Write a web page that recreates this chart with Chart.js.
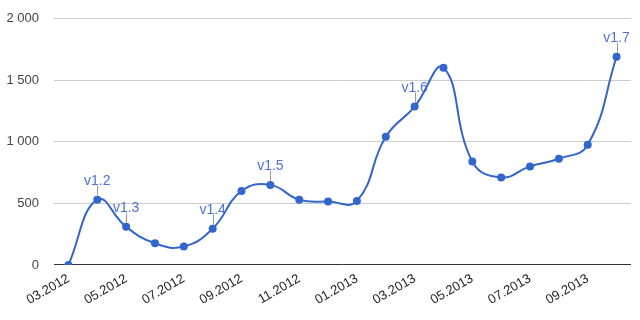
<!DOCTYPE html>
<html>
<head>
<meta charset="utf-8">
<script src="https://cdn.jsdelivr.net/npm/chart.js@4"></script>
<style>
  html, body { margin: 0; padding: 0; background: #fff; }
  #wrap { width: 640px; height: 320px; }
</style>
</head>
<body>
<div id="wrap"><canvas id="chart" width="640" height="320"></canvas></div>
<script>
const months = ['03.2012', '04.2012', '05.2012', '06.2012', '07.2012', '08.2012', '09.2012', '10.2012',
  '11.2012', '12.2012', '01.2013', '02.2013', '03.2013', '04.2013', '05.2013', '06.2013',
  '07.2013', '08.2013', '09.2013', '10.2013'];
const downloads = [0, 530, 310, 176, 150, 295, 600, 650, 530, 515, 520, 1040, 1285, 1600, 840, 710, 800, 862, 976, 1690];
const releases = ['', 'v1.2', 'v1.3', '', '', 'v1.4', '', 'v1.5', '', '', '', '', 'v1.6', '', '', '', '', '', '', 'v1.7'];

const lineColor = '#3366cc';

function fmt(v) {
  return String(v).replace(/\B(?=(\d{3})+(?!\d))/g, ' ');
}

// small stems + version text above points
const releaseLabels = {
  id: 'releaseLabels',
  afterDatasetsDraw(chart) {
    const ctx = chart.ctx;
    const meta = chart.getDatasetMeta(0);
    ctx.save();
    ctx.font = '14px "Liberation Sans", Arial, sans-serif';
    ctx.textAlign = 'center';
    ctx.textBaseline = 'alphabetic';
    releases.forEach((r, i) => {
      if (!r) return;
      const p = meta.data[i];
      ctx.strokeStyle = '#999';
      ctx.lineWidth = 1;
      ctx.beginPath();
      ctx.moveTo(Math.round(p.x) + 0.5, p.y - 4);
      ctx.lineTo(Math.round(p.x) + 0.5, p.y - 14);
      ctx.stroke();
      ctx.fillStyle = '#4a72d6';
      ctx.fillText(r, p.x, p.y - 15);
    });
    ctx.restore();
  }
};

new Chart(document.getElementById('chart').getContext('2d'), {
  type: 'line',
  data: {
    labels: months,
    datasets: [{
      data: downloads,
      borderColor: lineColor,
      backgroundColor: lineColor,
      borderWidth: 2,
      pointRadius: 4,
      pointBorderWidth: 0,
      tension: 0.45,
      fill: false
    }]
  },
  options: {
    responsive: false,
    animation: false,
    layout: { padding: { top: 0, right: 9, left: 0, bottom: 6 } },
    plugins: { legend: { display: false }, tooltip: { enabled: false } },
    scales: {
      x: {
        offset: true,
        grid: { display: false, drawTicks: false },
        border: { display: false },
        ticks: {
          autoSkip: false,
          maxRotation: 30,
          minRotation: 30,
          color: '#222',
          padding: 6,
          font: { family: '"Liberation Sans", Arial, sans-serif', size: 13 },
          callback: (v, i) => (i % 2 === 0 ? months[i] : '')
        }
      },
      y: {
        min: 0,
        max: 2000,
        border: { display: false },
        afterFit: s => { s.width = 54; s.paddingTop = 18.5; },
        grid: {
          drawTicks: false,
          color: ctx => (ctx.tick && ctx.tick.value === 0 ? '#333' : '#ccc')
        },
        ticks: {
          stepSize: 500,
          color: '#444',
          padding: 15,
          font: { family: '"Liberation Sans", Arial, sans-serif', size: 13 },
          callback: v => fmt(v)
        }
      }
    }
  },
  plugins: [releaseLabels]
});
</script>
</body>
</html>
